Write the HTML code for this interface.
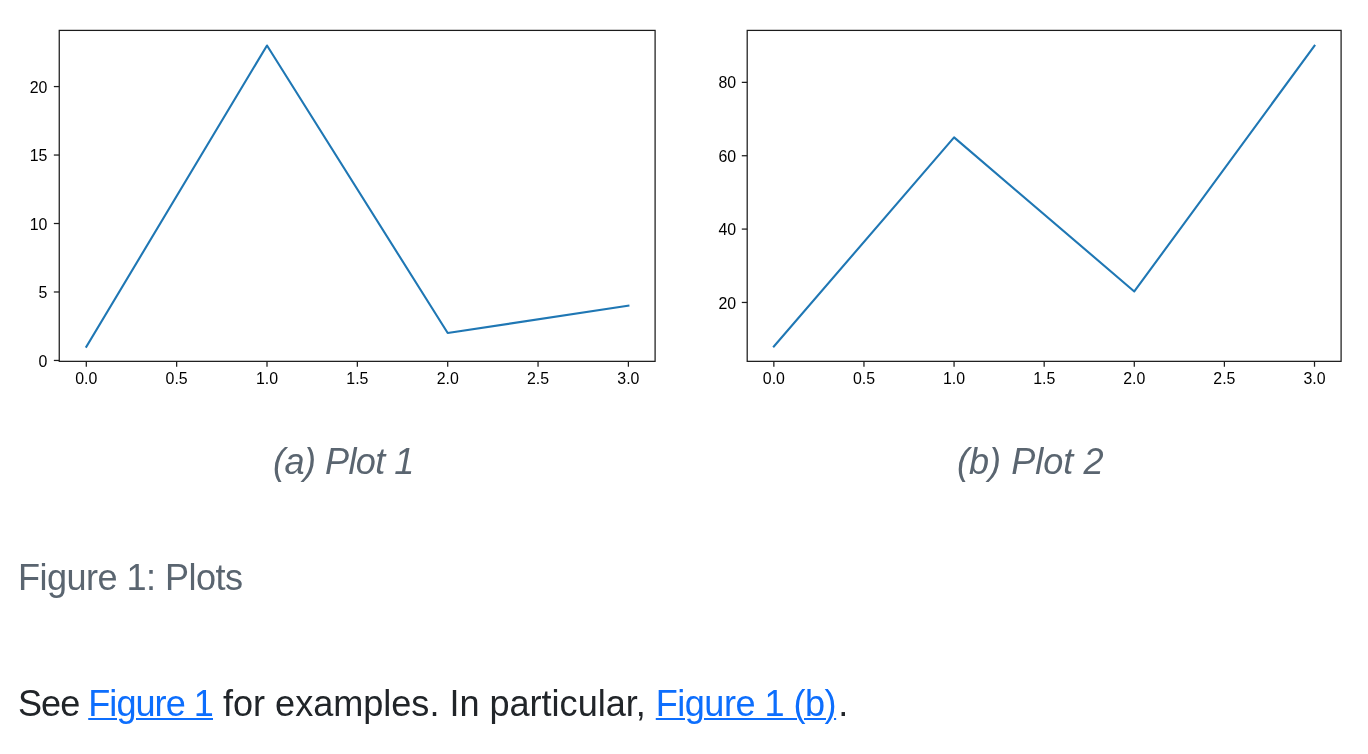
<!DOCTYPE html>
<html><head><meta charset="utf-8"><title>Plots</title>
<style>
html,body{margin:0;padding:0;background:#fff;}
body{width:1368px;height:754px;position:relative;overflow:hidden;font-family:"Liberation Sans",sans-serif;color:#212529;}
svg.plots{position:absolute;left:0;top:0;will-change:transform;}
svg.plots text{font-family:"Liberation Sans",sans-serif;font-size:15.9px;fill:#000;}
.t{position:absolute;font-size:36.1px;line-height:41px;white-space:pre;margin:0;will-change:transform;}
.sub{top:440.5px;font-style:italic;color:#5a6570;}
.cap{left:18.4px;top:556.5px;color:#5a6570;letter-spacing:-0.542px;}
.para{left:18.0px;top:683.3px;color:#212529;}
.s1{letter-spacing:-1.0px} .s2{letter-spacing:-0.948px} .s3{letter-spacing:-0.013px} .s4{letter-spacing:-0.509px}
a{color:#0d6efd;text-decoration:underline;text-decoration-thickness:2px;text-underline-offset:2px;}
</style></head>
<body>
<div class="figure">
<svg class="plots" width="1368" height="754" viewBox="0 0 1368 754">
<rect x="59.25" y="30.40" width="595.85" height="330.95" fill="none" stroke="#1c1c1c" stroke-width="1.25"/>
<line x1="86.30" y1="361.35" x2="86.30" y2="366.75" stroke="#1c1c1c" stroke-width="1.25"/>
<text x="86.30" y="384.15" text-anchor="middle">0.0</text>
<line x1="176.65" y1="361.35" x2="176.65" y2="366.75" stroke="#1c1c1c" stroke-width="1.25"/>
<text x="176.65" y="384.15" text-anchor="middle">0.5</text>
<line x1="267.00" y1="361.35" x2="267.00" y2="366.75" stroke="#1c1c1c" stroke-width="1.25"/>
<text x="267.00" y="384.15" text-anchor="middle">1.0</text>
<line x1="357.35" y1="361.35" x2="357.35" y2="366.75" stroke="#1c1c1c" stroke-width="1.25"/>
<text x="357.35" y="384.15" text-anchor="middle">1.5</text>
<line x1="447.70" y1="361.35" x2="447.70" y2="366.75" stroke="#1c1c1c" stroke-width="1.25"/>
<text x="447.70" y="384.15" text-anchor="middle">2.0</text>
<line x1="538.05" y1="361.35" x2="538.05" y2="366.75" stroke="#1c1c1c" stroke-width="1.25"/>
<text x="538.05" y="384.15" text-anchor="middle">2.5</text>
<line x1="628.40" y1="361.35" x2="628.40" y2="366.75" stroke="#1c1c1c" stroke-width="1.25"/>
<text x="628.40" y="384.15" text-anchor="middle">3.0</text>
<line x1="53.85" y1="360.45" x2="59.25" y2="360.45" stroke="#1c1c1c" stroke-width="1.25"/>
<text x="47.45" y="366.55" text-anchor="end">0</text>
<line x1="53.85" y1="291.98" x2="59.25" y2="291.98" stroke="#1c1c1c" stroke-width="1.25"/>
<text x="47.45" y="298.08" text-anchor="end">5</text>
<line x1="53.85" y1="223.51" x2="59.25" y2="223.51" stroke="#1c1c1c" stroke-width="1.25"/>
<text x="47.45" y="229.61" text-anchor="end">10</text>
<line x1="53.85" y1="155.04" x2="59.25" y2="155.04" stroke="#1c1c1c" stroke-width="1.25"/>
<text x="47.45" y="161.14" text-anchor="end">15</text>
<line x1="53.85" y1="86.57" x2="59.25" y2="86.57" stroke="#1c1c1c" stroke-width="1.25"/>
<text x="47.45" y="92.67" text-anchor="end">20</text>
<polyline points="86.30,346.76 267.00,45.49 447.70,333.06 628.40,305.67" fill="none" stroke="#1f77b4" stroke-width="2.1" stroke-linejoin="round" stroke-linecap="square"/>
<rect x="747.20" y="30.40" width="593.90" height="330.95" fill="none" stroke="#1c1c1c" stroke-width="1.25"/>
<line x1="773.85" y1="361.35" x2="773.85" y2="366.75" stroke="#1c1c1c" stroke-width="1.25"/>
<text x="773.85" y="384.15" text-anchor="middle">0.0</text>
<line x1="863.96" y1="361.35" x2="863.96" y2="366.75" stroke="#1c1c1c" stroke-width="1.25"/>
<text x="863.96" y="384.15" text-anchor="middle">0.5</text>
<line x1="954.07" y1="361.35" x2="954.07" y2="366.75" stroke="#1c1c1c" stroke-width="1.25"/>
<text x="954.07" y="384.15" text-anchor="middle">1.0</text>
<line x1="1044.18" y1="361.35" x2="1044.18" y2="366.75" stroke="#1c1c1c" stroke-width="1.25"/>
<text x="1044.18" y="384.15" text-anchor="middle">1.5</text>
<line x1="1134.29" y1="361.35" x2="1134.29" y2="366.75" stroke="#1c1c1c" stroke-width="1.25"/>
<text x="1134.29" y="384.15" text-anchor="middle">2.0</text>
<line x1="1224.40" y1="361.35" x2="1224.40" y2="366.75" stroke="#1c1c1c" stroke-width="1.25"/>
<text x="1224.40" y="384.15" text-anchor="middle">2.5</text>
<line x1="1314.51" y1="361.35" x2="1314.51" y2="366.75" stroke="#1c1c1c" stroke-width="1.25"/>
<text x="1314.51" y="384.15" text-anchor="middle">3.0</text>
<line x1="741.80" y1="302.46" x2="747.20" y2="302.46" stroke="#1c1c1c" stroke-width="1.25"/>
<text x="736.10" y="308.56" text-anchor="end">20</text>
<line x1="741.80" y1="229.09" x2="747.20" y2="229.09" stroke="#1c1c1c" stroke-width="1.25"/>
<text x="736.10" y="235.19" text-anchor="end">40</text>
<line x1="741.80" y1="155.73" x2="747.20" y2="155.73" stroke="#1c1c1c" stroke-width="1.25"/>
<text x="736.10" y="161.83" text-anchor="end">60</text>
<line x1="741.80" y1="82.36" x2="747.20" y2="82.36" stroke="#1c1c1c" stroke-width="1.25"/>
<text x="736.10" y="88.46" text-anchor="end">80</text>
<polyline points="773.85,346.48 954.07,137.39 1134.29,291.46 1314.51,45.68" fill="none" stroke="#1f77b4" stroke-width="2.1" stroke-linejoin="round" stroke-linecap="square"/>
</svg>
<div class="t sub" style="left:272.8px;letter-spacing:-0.556px">(a) Plot 1</div>
<div class="t sub" style="left:956.8px;letter-spacing:0.011px">(b) Plot 2</div>
<div class="t cap">Figure 1: Plots</div>
</div>
<p class="t para"><span class="s1">See </span><a class="s2" href="#fig">Figure 1</a><span class="s3"> for examples. In particular, </span><a class="s4" href="#fig-b">Figure 1 (b)</a><span style="margin-left:2px">.</span></p>
</body></html>
